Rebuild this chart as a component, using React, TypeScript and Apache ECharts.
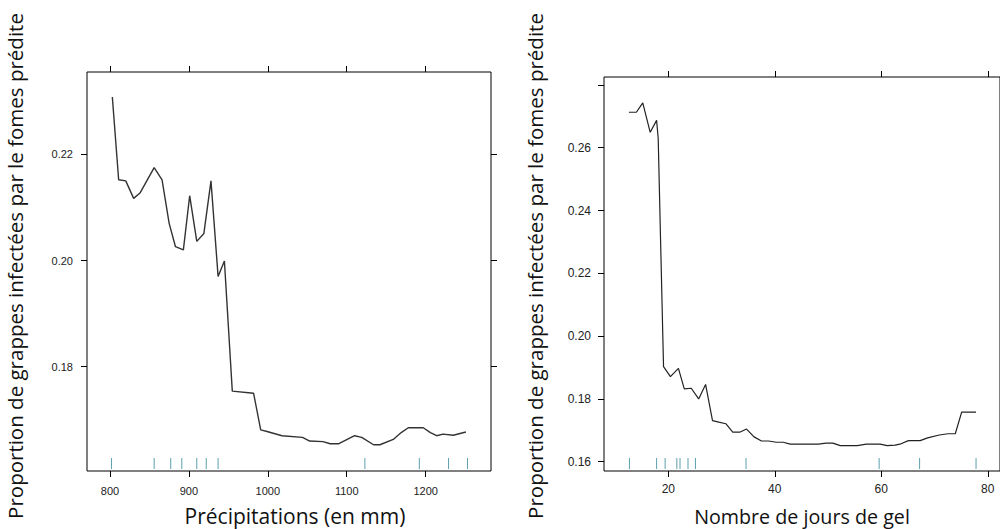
import React, { useEffect, useRef } from "react";
import * as echarts from "echarts";

// Left panel: predicted proportion vs precipitation
const precip = [803, 811, 820, 830, 838, 856, 866, 875, 883, 893, 901, 910, 919, 928, 937, 945, 955, 982, 991, 999, 1018, 1044, 1053, 1070, 1079, 1090, 1110, 1119, 1134, 1142, 1159, 1169, 1178, 1197, 1206, 1214, 1222, 1235, 1251];
const precipVals = [0.2308, 0.2152, 0.215, 0.2117, 0.2127, 0.2175, 0.2152, 0.207, 0.2026, 0.202, 0.2122, 0.2036, 0.2051, 0.215, 0.197, 0.1999, 0.1754, 0.175, 0.1681, 0.1678, 0.167, 0.1667, 0.166, 0.1659, 0.1655, 0.1655, 0.167, 0.1667, 0.1653, 0.1653, 0.1663, 0.1676, 0.1685, 0.1685, 0.1676, 0.167, 0.1673, 0.1671, 0.1677];
const precipRug = [802, 856, 877, 891, 910, 922, 937, 1123, 1192, 1229, 1253];
const precipTicks = [800, 900, 1000, 1100, 1200];
const leftYTicks = [0.18, 0.2, 0.22];

// Right panel: predicted proportion vs frost days
const gel = [12.6, 14.0, 15.2, 16.6, 17.8, 18.1, 19.1, 20.4, 21.9, 23.0, 24.3, 25.7, 27.0, 28.3, 29.5, 30.8, 32.1, 33.4, 34.7, 36.1, 37.5, 38.8, 40.3, 41.6, 42.9, 45.6, 48.2, 49.6, 50.9, 52.3, 55.5, 57.2, 59.8, 61.1, 62.6, 63.7, 65.1, 67.3, 68.7, 70.9, 72.5, 73.9, 75.1, 77.8];
const gelVals = [0.2713, 0.2713, 0.2743, 0.2649, 0.2687, 0.263, 0.1903, 0.1871, 0.1897, 0.1832, 0.1834, 0.18, 0.1846, 0.1731, 0.1726, 0.1721, 0.1694, 0.1694, 0.1704, 0.1679, 0.1666, 0.1666, 0.1662, 0.1662, 0.1656, 0.1656, 0.1656, 0.1659, 0.1659, 0.1651, 0.1651, 0.1656, 0.1656, 0.1651, 0.1653, 0.1657, 0.1667, 0.1667, 0.1676, 0.1685, 0.1689, 0.1689, 0.1758, 0.1758];
const gelRug = [12.7, 17.8, 19.4, 21.6, 22.2, 23.7, 25.1, 34.6, 59.6, 67.2, 77.8];
const gelTicks = [20, 40, 60, 80];
const rightYTicks = [0.16, 0.18, 0.2, 0.22, 0.24, 0.26, 0.28];
const rightYLabels = [0.16, 0.18, 0.2, 0.22, 0.24, 0.26];

const yTitle = "Proportion de grappes infectées par le fomes prédite";
const xTitleLeft = "Précipitations (en mm)";
const xTitleRight = "Nombre de jours de gel";

const L = { xMin: 770.9, xMax: 1282.8, yMin: 0.16036, yMax: 0.2355 };
const R = { xMin: 7.92, xMax: 82.3, yMin: 0.15704, yMax: 0.28252 };

const tickFont = "'Liberation Sans', Arial, sans-serif";
const titleFont = "'Open Sans', 'Noto Sans', sans-serif";

function xAxisPair(grid: number, lim: any, ticks: number[], fontSize: number, margin: number) {
  const base = {
    type: "value",
    gridIndex: grid,
    min: lim.xMin,
    max: lim.xMax,
    splitLine: { show: false },
    axisLine: { show: false },
    axisTick: { show: true, inside: false, length: 6, customValues: ticks, lineStyle: { color: "#000", width: 1 } },
  };
  return [
    {
      ...base,
      position: "bottom",
      axisLabel: {
        show: true,
        customValues: ticks,
        fontSize,
        margin,
        color: "#222",
        fontFamily: tickFont,
        formatter: (v: number) => String(Math.round(v)),
      },
    },
    { ...base, position: "top", axisLabel: { show: false } },
  ];
}

function yAxisPair(grid: number, lim: any, ticks: number[], labels: number[], fontSize: number, margin: number) {
  const base = {
    type: "value",
    gridIndex: grid,
    min: lim.yMin,
    max: lim.yMax,
    splitLine: { show: false },
    axisLine: { show: false },
    axisTick: { show: true, inside: false, length: 6, customValues: ticks, lineStyle: { color: "#000", width: 1 } },
  };
  return [
    {
      ...base,
      position: "left",
      axisLabel: {
        show: true,
        customValues: labels,
        fontSize,
        margin,
        color: "#222",
        fontFamily: tickFont,
        formatter: (v: number) => v.toFixed(2),
      },
    },
    { ...base, position: "right", axisLabel: { show: false } },
  ];
}

function rugSeries(grid: number, values: number[], yMin: number) {
  return {
    type: "custom",
    xAxisIndex: grid * 2,
    yAxisIndex: grid * 2,
    data: values.map((v) => [v, yMin]),
    renderItem: (params: any, api: any) => {
      const p = api.coord([api.value(0), api.value(1)]);
      return {
        type: "line",
        shape: { x1: p[0], y1: p[1] - 2, x2: p[0], y2: p[1] - 13 },
        style: { stroke: "#5e9fae", lineWidth: 1 },
      };
    },
    silent: true,
  };
}

export default function App() {
  const ref = useRef<HTMLDivElement>(null);
  useEffect(() => {
    if (!ref.current) return;
    const chart = echarts.init(ref.current, null, { renderer: "svg" });
    const option: any = {
      animation: false,
      backgroundColor: "#fff",
      grid: [
        { left: 87, top: 72, width: 404, height: 399, show: true, borderColor: "#000", borderWidth: 1, backgroundColor: "transparent" },
        { left: 604, top: 77, width: 400, height: 394, show: true, borderColor: "#000", borderWidth: 1, backgroundColor: "transparent" },
      ],
      xAxis: [...xAxisPair(0, L, precipTicks, 11, 14), ...xAxisPair(1, R, gelTicks, 12, 12)],
      yAxis: [...yAxisPair(0, L, leftYTicks, leftYTicks, 11, 14), ...yAxisPair(1, R, rightYTicks, rightYLabels, 12, 13)],
      series: [
        {
          type: "line",
          xAxisIndex: 0,
          yAxisIndex: 0,
          data: precip.map((x, i) => [x, precipVals[i]]),
          showSymbol: false,
          symbol: "none",
          lineStyle: { color: "#333", width: 1.4 },
          silent: true,
        },
        {
          type: "line",
          xAxisIndex: 2,
          yAxisIndex: 2,
          data: gel.map((x, i) => [x, gelVals[i]]),
          showSymbol: false,
          symbol: "none",
          lineStyle: { color: "#222", width: 1.2 },
          silent: true,
        },
        rugSeries(0, precipRug, L.yMin),
        rugSeries(1, gelRug, R.yMin),
      ],
      graphic: [
        { type: "text", x: 295, y: 516, style: { text: xTitleLeft, font: `21px ${titleFont}`, fill: "#111", align: "center", verticalAlign: "middle" } },
        { type: "text", x: 802, y: 516, style: { text: xTitleRight, font: `19.7px ${titleFont}`, fill: "#111", align: "center", verticalAlign: "middle" } },
        { type: "text", x: 15, y: 266, rotation: Math.PI / 2, style: { text: yTitle, font: `20.5px ${titleFont}`, fill: "#111", align: "center", verticalAlign: "middle" } },
        { type: "text", x: 535, y: 266, rotation: Math.PI / 2, style: { text: yTitle, font: `20.5px ${titleFont}`, fill: "#111", align: "center", verticalAlign: "middle" } },
      ],
    };
    chart.setOption(option);
    return () => chart.dispose();
  }, []);
  return <div ref={ref} style={{ position: "fixed", left: 0, top: 0, width: 1000, height: 529, overflow: "hidden" }} />;
}
